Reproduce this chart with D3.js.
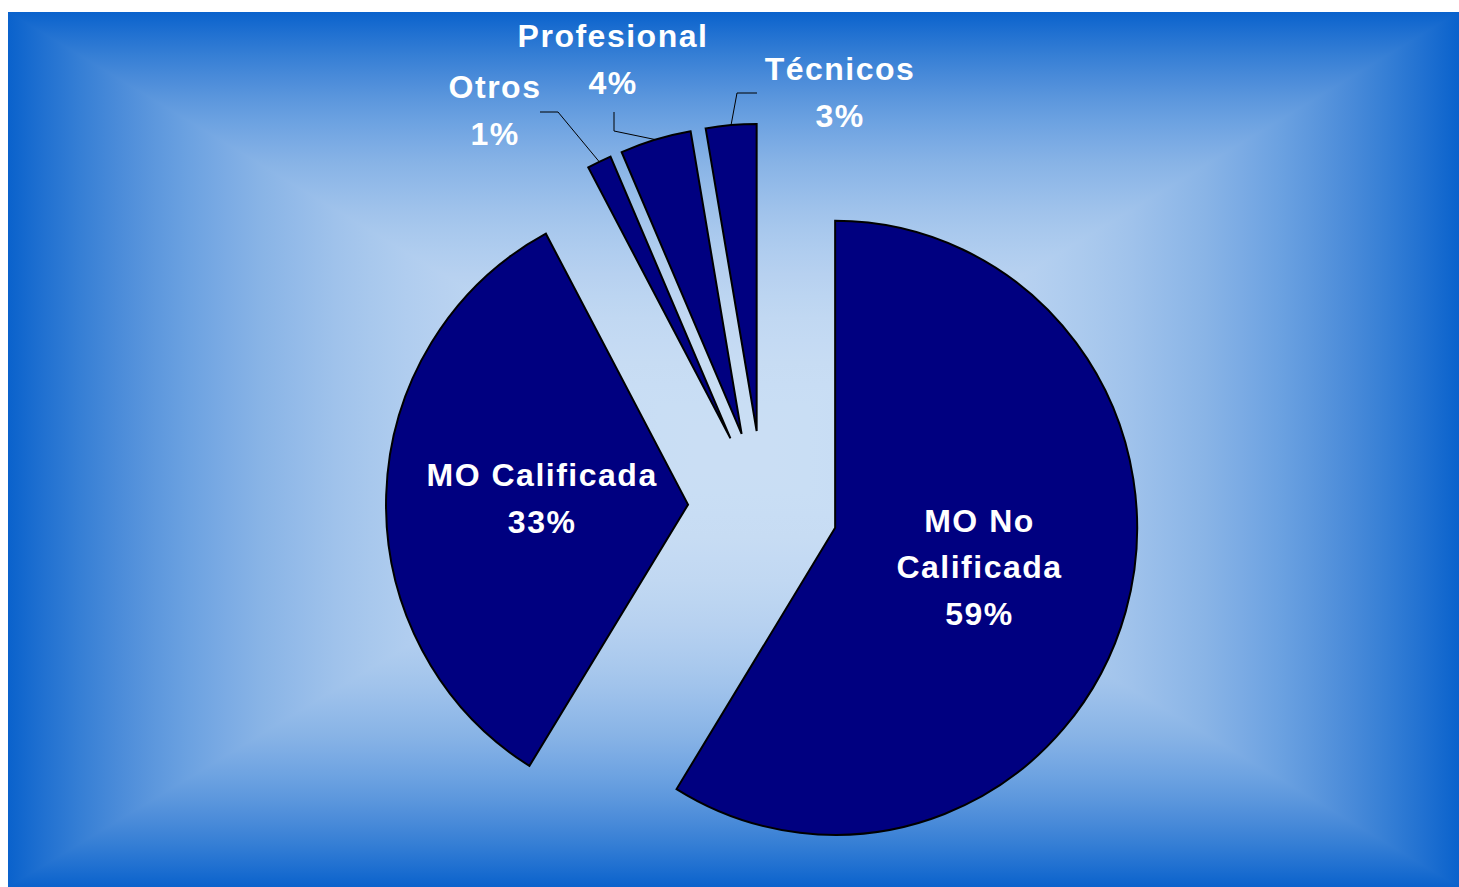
<!DOCTYPE html>
<html><head><meta charset="utf-8">
<script src="https://cdn.jsdelivr.net/npm/d3@7"></script>
<style>body{margin:0;background:#fff}svg{display:block}</style>
</head><body>
<svg id="chart" width="1459" height="887"></svg>
<script>
// ---- data ----
const categories = ["MO No Calificada", "MO Calificada", "Otros", "Profesional", "Técnicos"];
const values = [58.8, 33.4, 1.3, 3.8, 2.7];
const labelLines = [["MO No", "Calificada"], ["MO Calificada"], ["Otros"], ["Profesional"], ["Técnicos"]];
const insideLabel = [true, true, false, false, false];

// ---- layout ----
const W = 1459, H = 887;
const area = {x0: 8, y0: 12, x1: 1459, y1: 887};
const gc = {x: 733.5, y: 449.5};
const edgeColor = "#0a62cc", centerColor = "#cadef4";
const C = {x: 763, y: 507};
const R = 302, SY = 1.0166, EXPLODE = 75;
const sliceFill = "#000080";
const fontSize = 32, lineGap = 46.5;
// outside labels: text center & first baseline, leader start and elbow
const outsideLayout = {
  "Otros":       {tx: 495, ty: 98, lead: [[540, 112], [558, 112]]},
  "Profesional": {tx: 613, ty: 47, lead: [[614, 112], [614, 131]]},
  "Técnicos":    {tx: 840, ty: 80, lead: [[757, 93], [737, 93]]}
};

const svg = d3.select("#chart");
const defs = svg.append("defs");

// background: rectangular "from centre" gradient built from four triangles
const mix = d3.interpolateRgb(centerColor, edgeColor);
const stopOffsets = d3.range(0, 1.0001, 0.05);
const tris = [
  {id: "gT", pts: [[area.x0, area.y0], [area.x1, area.y0], [gc.x, gc.y]], g: [0, area.y0, 0, gc.y]},
  {id: "gB", pts: [[area.x0, area.y1], [area.x1, area.y1], [gc.x, gc.y]], g: [0, area.y1, 0, gc.y]},
  {id: "gL", pts: [[area.x0, area.y0], [area.x0, area.y1], [gc.x, gc.y]], g: [area.x0, 0, gc.x, 0]},
  {id: "gR", pts: [[area.x1, area.y0], [area.x1, area.y1], [gc.x, gc.y]], g: [area.x1, 0, gc.x, 0]}
];
tris.forEach(t => {
  const lg = defs.append("linearGradient").attr("id", t.id).attr("gradientUnits", "userSpaceOnUse")
    .attr("x1", t.g[0]).attr("y1", t.g[1]).attr("x2", t.g[2]).attr("y2", t.g[3]);
  stopOffsets.forEach(o => {
    // o = 0 at edge, 1 at centre
    lg.append("stop").attr("offset", o).attr("stop-color", mix(Math.pow(1 - o, 2.5)));
  });
});
svg.append("rect").attr("width", W).attr("height", H).attr("fill", "#fff");
svg.append("g").selectAll("path").data(tris).join("path")
  .attr("d", t => "M" + t.pts.map(p => p.join(",")).join("L") + "Z")
  .attr("fill", t => `url(#${t.id})`)
  .attr("shape-rendering", "crispEdges");

// pie
const data = categories.map((c, i) => ({cat: c, value: values[i], lines: labelLines[i], inside: insideLabel[i]}));
const total = d3.sum(values);
const pct = d3.format(".0%");
const pie = d3.pie().sort(null).value(d => d.value).startAngle(0).endAngle(2 * Math.PI);
const arcs = pie(data);
const arc = d3.arc().innerRadius(0).outerRadius(R);

arcs.forEach(a => {
  a.mid = (a.startAngle + a.endAngle) / 2;
  a.ox = EXPLODE * Math.sin(a.mid);
  a.oy = -EXPLODE * Math.cos(a.mid);
});
const toPage = (a, x, y) => [C.x + a.ox + x, C.y + SY * (a.oy + y)];

svg.append("g").selectAll("path").data(arcs).join("path")
  .attr("transform", a => `translate(${C.x},${C.y}) scale(1,${SY}) translate(${a.ox},${a.oy})`)
  .attr("d", arc)
  .attr("fill", sliceFill)
  .attr("stroke", "#000").attr("stroke-width", 2)
  .attr("vector-effect", "non-scaling-stroke")
  .attr("stroke-linejoin", "miter");

// leader lines
const outside = arcs.filter(a => !a.data.inside);
svg.append("g").selectAll("path").data(outside).join("path")
  .attr("d", a => {
    const L = outsideLayout[a.data.cat];
    const end = toPage(a, R * Math.sin(a.mid), -R * Math.cos(a.mid));
    return d3.line()([...L.lead, end]);
  })
  .attr("fill", "none").attr("stroke", "#000").attr("stroke-width", 1);

// labels
const labels = svg.append("g")
  .attr("font-family", "'Liberation Sans', Arial, sans-serif")
  .attr("font-weight", "bold").attr("font-size", fontSize)
  .attr("fill", "#fff").attr("text-anchor", "middle")
  .style("letter-spacing", "1.5px");

arcs.forEach(a => {
  const lines = [...a.data.lines, pct(a.data.value / total)];
  let x, y0;
  if (a.data.inside) {
    const c = toPage(a, 0.49 * R * Math.sin(a.mid), -0.49 * R * Math.cos(a.mid));
    x = c[0] + 2;
    y0 = c[1] - (lines.length - 1) * lineGap / 2 + 11.5 - 2;
  } else {
    const L = outsideLayout[a.data.cat];
    x = L.tx; y0 = L.ty;
  }
  const t = labels.append("text");
  lines.forEach((s, i) => t.append("tspan").attr("x", x).attr("y", y0 + i * lineGap).text(s));
});
</script>
</body></html>
